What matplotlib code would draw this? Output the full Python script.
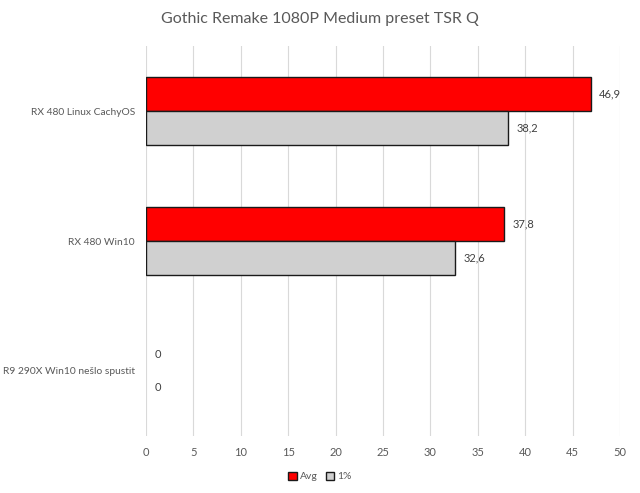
import matplotlib.pyplot as plt
import numpy as np

plt.rcParams['font.family'] = ['Lato', 'DejaVu Sans']

categories = ["RX 480 Linux CachyOS", "RX 480 Win10", "R9 290X Win10 nešlo spustit"]
avg = [46.9, 37.8, 0]
low1 = [38.2, 32.6, 0]
series_names = ["Avg", "1%"]

fig = plt.figure(figsize=(6.4, 4.93), dpi=100)
ax = fig.add_axes([146 / 640, 57 / 493, 474 / 640, 390 / 493])

y = np.arange(len(categories))
h = 0.26
b1 = ax.barh(y - h / 2, avg, height=h, color='#ff0000', edgecolor='#1a1a1a', linewidth=1, label=series_names[0])
b2 = ax.barh(y + h / 2, low1, height=h, color='#d0d0d0', edgecolor='#1a1a1a', linewidth=1, label=series_names[1])

for bars, vals in ((b1, avg), (b2, low1)):
    for bar, v in zip(bars, vals):
        if v == 0:
            bar.set_linewidth(0)
        ax.text(v + 0.9, bar.get_y() + bar.get_height() / 2, f"{v:g}".replace('.', ','),
                va='center', ha='left', fontsize=8, color='#404040')

ax.set_ylim(len(categories) - 0.5, -0.5)
ax.set_xlim(0, 50)
ax.set_xticks(range(0, 51, 5))
ax.set_yticks(y)
ax.set_yticklabels(categories)
ax.tick_params(axis='both', length=0, labelsize=8, colors='#595959')
ax.tick_params(axis='y', labelsize=7.4, pad=8)
ax.tick_params(axis='x', pad=8)
ax.grid(axis='x', color='#d9d9d9', linewidth=0.8)
ax.set_axisbelow(True)
for s in ax.spines.values():
    s.set_visible(False)

fig.suptitle("Gothic Remake 1080P Medium preset TSR Q", y=0.975, fontsize=11.5, color='#595959')
fig.legend(loc='lower center', ncol=2, bbox_to_anchor=(0.5, 0.005), frameon=False,
           fontsize=7.5, handlelength=0.8, handleheight=0.8, handletextpad=0.3,
           columnspacing=0.8, labelcolor='#595959')

fig.savefig("out.png", dpi=100)
